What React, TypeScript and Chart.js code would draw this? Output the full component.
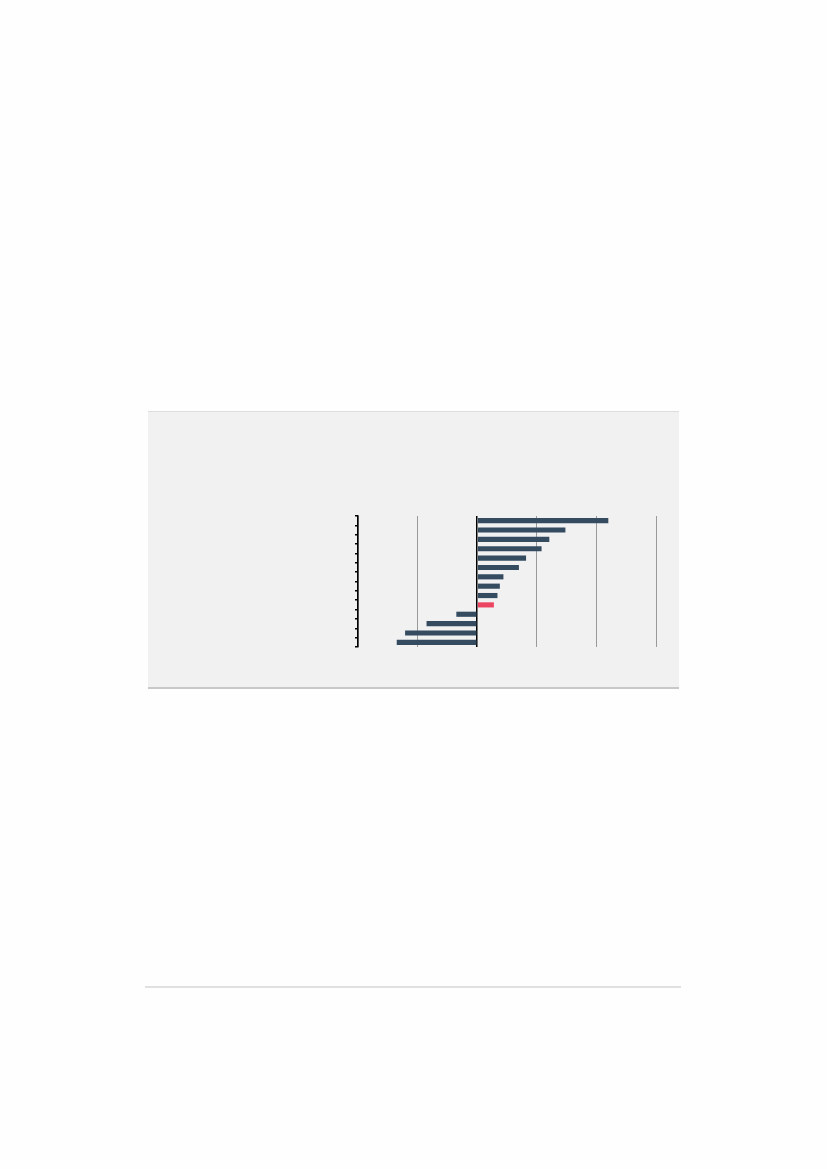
import { useEffect, useRef } from "react"
import { Chart, registerables } from "chart.js"

Chart.register(...registerables)

// the reference shows no labels, so categories are plain indexes
const categories = ["1", "2", "3", "4", "5", "6", "7", "8", "9", "10", "11", "12", "13", "14"]
const values = [22.0, 14.8, 12.1, 10.8, 8.2, 7.0, 4.4, 3.8, 3.4, 2.8, -3.5, -8.5, -12.1, -13.5]
const highlightIndex = 9
const xMin = -20
const xMax = 30
const xStep = 10

const barColor = "#344b60"
const highlightColor = "#ec4561"

function BarChart() {
  const chartRef = useRef<HTMLCanvasElement>(null)
  const chartInstance = useRef<Chart | null>(null)

  useEffect(() => {
    if (!chartRef.current) return
    if (chartInstance.current) chartInstance.current.destroy()

    const ctx = chartRef.current.getContext("2d")
    if (!ctx) return

    chartInstance.current = new Chart(ctx, {
      type: "bar",
      data: {
        labels: categories,
        datasets: [
          {
            data: values,
            backgroundColor: values.map((_, i) => (i === highlightIndex ? highlightColor : barColor)),
            borderWidth: 0,
            barPercentage: 0.55,
            categoryPercentage: 1,
          },
        ],
      },
      options: {
        indexAxis: "y",
        animation: false,
        responsive: false,
        maintainAspectRatio: false,
        layout: { padding: { left: 10, right: 5, top: 6, bottom: 5 } },
        plugins: {
          legend: { display: false },
          tooltip: { enabled: false },
        },
        scales: {
          x: {
            min: xMin,
            max: xMax,
            ticks: { display: false, stepSize: xStep },
            grid: {
              drawTicks: false,
              color: (c) => (c.tick && c.tick.value === 0 ? "#000000" : "#9a9a9a"),
              lineWidth: (c) => (c.tick && c.tick.value === 0 ? 1.5 : 1),
            },
            border: { display: false },
          },
          y: {
            ticks: { display: false },
            grid: {
              drawOnChartArea: false,
              drawTicks: true,
              tickLength: 3,
              color: "#000000",
              lineWidth: 1.5,
            },
            border: { display: true, color: "#000000", width: 1.5 },
          },
        },
      },
    })

    return () => {
      if (chartInstance.current) {
        chartInstance.current.destroy()
        chartInstance.current = null
      }
    }
  }, [])

  return <canvas ref={chartRef} width={316} height={142} style={{ width: 316, height: 142 }} />
}

export default function App() {
  return (
    <div style={{ position: "absolute", left: 0, top: 0, width: 827, height: 1169, background: "#fefefe" }}>
      <div
        style={{
          position: "absolute",
          left: 148,
          top: 411,
          width: 531,
          height: 275,
          background: "#f1f1f1",
          borderTop: "1px solid #dddddd",
          borderBottom: "2px solid #c8c8c8",
        }}
      />
      <div style={{ position: "absolute", left: 345, top: 510 }}>
        <BarChart />
      </div>
      <div style={{ position: "absolute", left: 145, top: 986, width: 536, height: 2, background: "#e0e0e0" }} />
    </div>
  )
}
